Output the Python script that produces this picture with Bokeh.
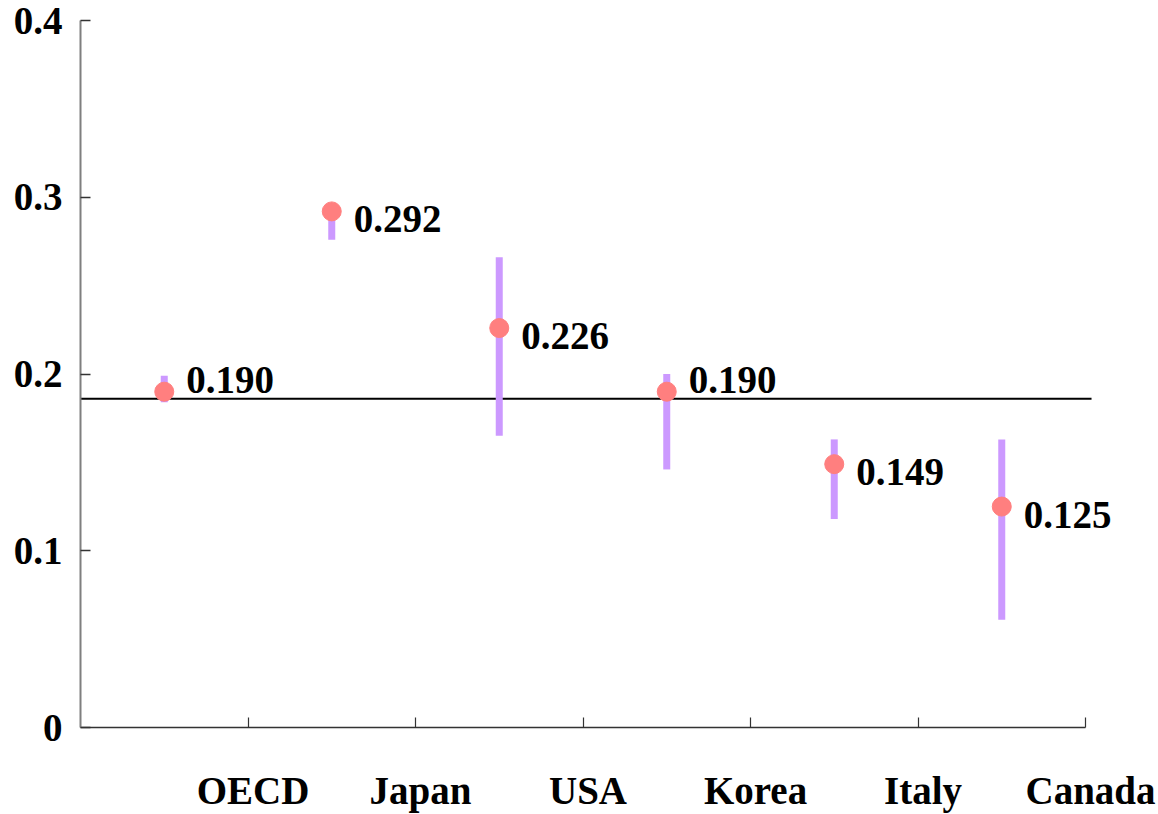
import numpy as np
from bokeh.plotting import figure
from bokeh.models import (Range1d, FixedTicker, ColumnDataSource, LabelSet,
                          LinearAxis, CustomJSTickFormatter)
from bokeh.embed import file_html
from bokeh.resources import INLINE

categories = ["OECD", "Japan", "USA", "Korea", "Italy", "Canada"]
values = [0.190, 0.292, 0.226, 0.190, 0.149, 0.125]
lows = [0.184, 0.276, 0.165, 0.146, 0.118, 0.061]
highs = [0.199, 0.294, 0.266, 0.200, 0.163, 0.163]
oecd_line = 0.186
y_ticks = [0, 0.1, 0.2, 0.3, 0.4]
y_tick_labels = ["0", "0.1", "0.2", "0.3", "0.4"]

n = len(categories)
xc = np.arange(n) + 0.5
xb = np.arange(1, n + 1)
label_shift = 0.03  # category labels sit slightly right of the boundary ticks

FONT = "Liberation Serif"
FS = "39px"

p = figure(frame_width=1072, frame_height=707, output_backend="svg",
           toolbar_location=None,
           x_range=Range1d(0, 6.4), y_range=Range1d(0, 0.4),
           min_border_left=80, min_border_top=20, min_border_right=5,
           min_border_bottom=0)
p.outline_line_color = None
p.xgrid.visible = False
p.ygrid.visible = False
p.background_fill_color = "white"

# y axis
ya = p.yaxis[0]
ya.ticker = FixedTicker(ticks=y_ticks)
ya.major_label_overrides = {t: l for t, l in zip(y_ticks, y_tick_labels)}
ya.major_tick_in = 10
ya.major_tick_out = 0
ya.minor_tick_in = 0
ya.minor_tick_out = 0
ya.axis_line_color = "#7f7f7f"
ya.axis_line_width = 2
ya.major_tick_line_color = "#333333"
ya.major_tick_line_width = 1.5
ya.major_label_text_font = FONT
ya.major_label_text_font_style = "bold"
ya.major_label_text_font_size = FS
ya.major_label_text_color = "black"
ya.major_label_standoff = 18

# x axis (line and boundary ticks)
xa = p.xaxis[0]
xa.bounds = (0, n)
xa.ticker = FixedTicker(ticks=list(xb))
xa.formatter = CustomJSTickFormatter(code="return ''")
xa.major_label_text_font_size = "1px"
xa.major_label_standoff = 0
xa.major_tick_in = 10
xa.major_tick_out = 0
xa.minor_tick_in = 0
xa.minor_tick_out = 0
xa.axis_line_color = "#333333"
xa.axis_line_width = 1.5
xa.major_tick_line_color = "#333333"
xa.major_tick_line_width = 1.2

# category labels axis
xl = LinearAxis(ticker=FixedTicker(ticks=list(xb + label_shift)),
                formatter=CustomJSTickFormatter(
                    args=dict(cats=categories, off=label_shift),
                    code="return cats[Math.round(tick - off) - 1] || ''"))
xl.axis_line_color = None
xl.major_tick_line_color = None
xl.minor_tick_line_color = None
xl.major_label_text_font = FONT
xl.major_label_text_font_style = "bold"
xl.major_label_text_font_size = FS
xl.major_label_text_color = "black"
xl.major_label_standoff = 35
p.add_layout(xl, "below")

# reference line
p.line(x=[0, n + 0.036], y=[oecd_line, oecd_line], line_color="black", line_width=2)

src = ColumnDataSource(dict(
    x=xc, v=values, lo=lows, hi=highs,
    lab=["%.3f" % v for v in values],
    yoff=[12 if abs(v - oecd_line) < 0.01 else -8 for v in values],
))

p.segment(x0="x", y0="lo", x1="x", y1="hi", source=src,
          line_color="#cc99ff", line_width=7, line_cap="butt")
p.scatter(x="x", y="v", source=src, size=19, fill_color="#ff7f7f",
          line_color="#ff7f7f")

labels = LabelSet(x="x", y="v", text="lab", source=src, x_offset=22,
                  y_offset="yoff", text_align="left", text_baseline="middle",
                  text_font=FONT, text_font_style="bold", text_font_size=FS,
                  text_color="black")
p.add_layout(labels)

open("out.html", "w").write(file_html(p, INLINE))
